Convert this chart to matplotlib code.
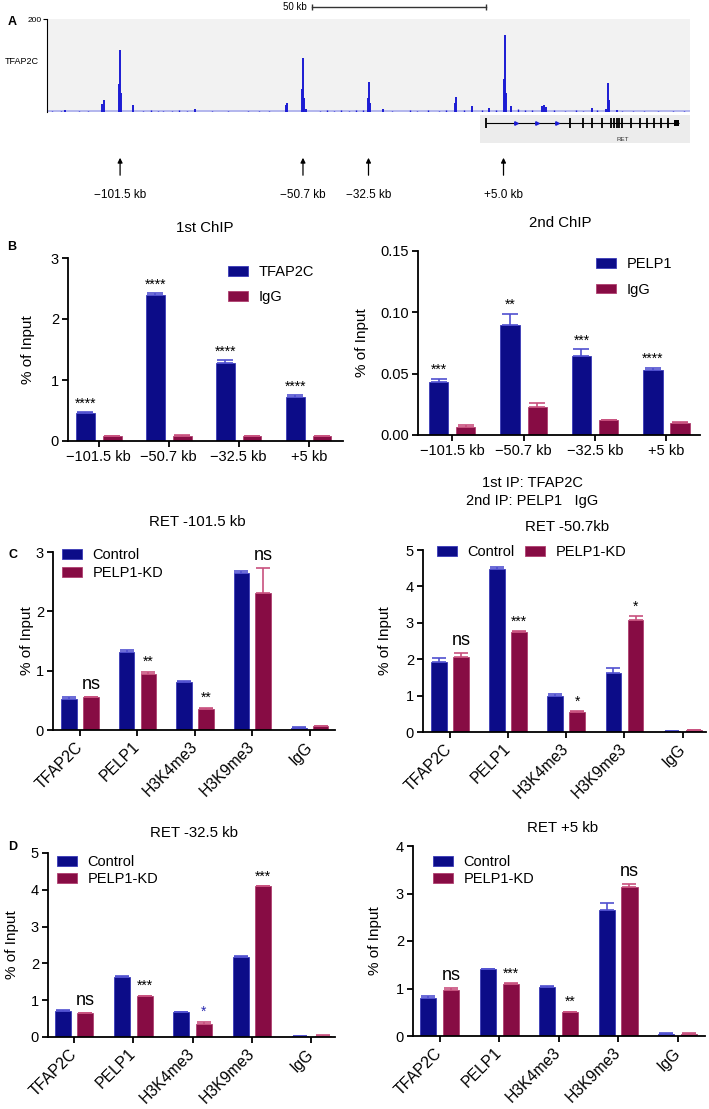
import numpy as np
import matplotlib.pyplot as plt
from matplotlib.ticker import MultipleLocator, FormatStrFormatter

plt.rcParams['font.family'] = ['Liberation Sans', 'DejaVu Sans']

W, H = 709, 1109
BLUE = '#0c0c88'
RED = '#870c44'
BLUE_ERR = '#5050d0'
RED_ERR = '#c8507e'
TRACK = '#1c1cd4'

# ---------------- data ----------------
# A: TFAP2C ChIP-seq signal around RET (kb from RET TSS)
track_pos = [-116.8, -106.5, -106.0, -101.7, -101.5, -101.2, -97.9, -80.7, -55.3, -55.1,
             -50.9, -50.7, -50.4, -49.8, -32.5, -32.3, -32.0, -28.5, -8.4, -8.2,
             -3.8, 1.0, 5.0, 5.3, 5.6, 7.0, 15.6, 16.2, 16.8, 29.5, 33.4, 34.0, 34.3, 36.5]
track_h = [5, 18, 25, 60, 134, 40, 14, 7, 14, 20,
           50, 116, 30, 7, 30, 65, 20, 7, 20, 33,
           13, 9, 70, 165, 40, 12, 12, 16, 10, 9, 7, 63, 25, 5]
noise_pos = [-120.5, -118, -113, -110.5, -95, -93, -91, -89.5, -87, -85, -83, -76, -71.5,
             -66, -63, -60, -46, -44, -42, -40, -38, -36, -34, -26, -21, -19, -16, -13,
             -11, -6, -1, 3, 9, 11, 13, 19, 22, 25, 27, 31, 38, 41, 44, 48, 52, 55]
noise_h = [3, 2, 3, 2, 3, 4, 3, 2, 3, 4, 3, 2, 3, 2, 2, 3, 3, 4, 3, 4, 3, 4, 5, 3, 4, 3,
           4, 3, 4, 5, 4, 5, 6, 4, 5, 4, 3, 4, 3, 4, 3, 3, 2, 3, 2, 2]
arrow_pos = [-101.5, -50.7, -32.5, 5.0]
arrow_labels = ['\u2212101.5 kb', '\u221250.7 kb', '\u221232.5 kb', '+5.0 kb']
ret_start, ret_end = 0.0, 53.8
ret_exons = [0.0, 23.5, 27.0, 29.5, 32.4, 34.8, 35.6, 36.4, 37.2, 38.0, 40.4, 42.9,
             44.8, 46.7, 48.7, 50.6]
ret_dir_marks = [8.5, 14.3, 19.9]
scalebar_kb = [-48.2, 0.0]

# B: sequential ChIP
b_sites = ['\u2212101.5 kb', '\u221250.7 kb', '\u221232.5 kb', '+5 kb']
b1_tfap2c = [0.46, 2.40, 1.28, 0.72]
b1_tfap2c_err = [0.01, 0.03, 0.05, 0.03]
b1_igg = [0.08, 0.09, 0.08, 0.08]
b1_igg_err = [0.005, 0.005, 0.005, 0.005]
b1_sig = ['****', '****', '****', '****']
b2_pelp1 = [0.043, 0.090, 0.064, 0.053]
b2_pelp1_err = [0.003, 0.009, 0.006, 0.002]
b2_igg = [0.0065, 0.023, 0.012, 0.010]
b2_igg_err = [0.0015, 0.003, 0.0005, 0.0005]
b2_sig = ['***', '**', '***', '****']

# C, D: ChIP after PELP1 knockdown
marks = ['TFAP2C', 'PELP1', 'H3K4me3', 'H3K9me3', 'IgG']
c1_ctrl = [0.52, 1.32, 0.81, 2.65, 0.04]
c1_ctrl_err = [0.04, 0.03, 0.01, 0.03, 0.005]
c1_kd = [0.55, 0.94, 0.35, 2.31, 0.06]
c1_kd_err = [0.01, 0.04, 0.02, 0.42, 0.01]
c1_sig = ['ns', '**', '**', 'ns', '']
c2_ctrl = [1.92, 4.47, 0.99, 1.62, 0.03]
c2_ctrl_err = [0.10, 0.06, 0.05, 0.15, 0.005]
c2_kd = [2.06, 2.74, 0.55, 3.08, 0.05]
c2_kd_err = [0.11, 0.03, 0.02, 0.10, 0.01]
c2_sig = ['ns', '***', '*', '*', '']
d1_ctrl = [0.70, 1.63, 0.67, 2.17, 0.03]
d1_ctrl_err = [0.04, 0.03, 0.01, 0.03, 0.005]
d1_kd = [0.65, 1.11, 0.36, 4.09, 0.04]
d1_kd_err = [0.01, 0.01, 0.05, 0.01, 0.005]
d1_sig = ['ns', '***', '*', '***', '']
d2_ctrl = [0.80, 1.41, 1.03, 2.65, 0.05]
d2_ctrl_err = [0.04, 0.01, 0.02, 0.16, 0.005]
d2_kd = [0.97, 1.09, 0.50, 3.13, 0.05]
d2_kd_err = [0.04, 0.02, 0.01, 0.06, 0.005]
d2_sig = ['ns', '***', '**', 'ns', '']

fig = plt.figure(figsize=(W / 100, H / 100), dpi=100)


def px_axes(x0, y0, x1, y1):
    return fig.add_axes([x0 / W, 1 - y1 / H, (x1 - x0) / W, (y1 - y0) / H])


def px_text(x, y, s, **kw):
    kw.setdefault('ha', 'center')
    kw.setdefault('va', 'center')
    fig.text(x / W, 1 - y / H, s, **kw)


def style(ax, ymax, step, xlim, fmt=None):
    for s in ['top', 'right']:
        ax.spines[s].set_visible(False)
    for s in ['left', 'bottom']:
        ax.spines[s].set_linewidth(1.3)
    ax.set_ylim(0, ymax)
    ax.set_xlim(*xlim)
    ax.yaxis.set_major_locator(MultipleLocator(step))
    if fmt:
        ax.yaxis.set_major_formatter(FormatStrFormatter(fmt))
    ax.tick_params(length=4.5, width=1.3, labelsize=10.5, pad=2)


def legend(ax, x, y, ncol=1, spacing=0.35, colsp=0.7):
    ax.legend(loc='upper left', bbox_to_anchor=(x / W, 1 - y / H),
              bbox_transform=fig.transFigure, frameon=False, fontsize=10.5,
              handlelength=1.35, handleheight=0.65, handletextpad=0.75,
              labelspacing=spacing, borderpad=0, borderaxespad=0,
              ncol=ncol, columnspacing=colsp)


def grouped(ax, a, a_err, b, b_err, la, lb, off=0.19, w=0.27, cap=5):
    x = np.arange(len(a))
    ax.bar(x - off, a, w, color=BLUE, edgecolor='#3a3ab8', lw=0.6, label=la,
           yerr=[np.zeros(len(a)), a_err],
           error_kw=dict(ecolor=BLUE_ERR, elinewidth=1.2, capsize=cap, capthick=1.2))
    ax.bar(x + off, b, w, color=RED, edgecolor='#b04070', lw=0.6, label=lb,
           yerr=[np.zeros(len(b)), b_err],
           error_kw=dict(ecolor=RED_ERR, elinewidth=1.2, capsize=cap, capthick=1.2))
    return x


# ---------------- panel A ----------------
kb_lim = (-121.8, 56.8)
axA = px_axes(47, 0, 690, 205)
axA.set_xlim(*kb_lim)
axA.set_ylim(205, 0)
axA.axis('off')

axT = px_axes(47, 19, 690, 112)
axT.set_facecolor('#f2f2f2')
axT.set_xlim(*kb_lim)
axT.set_ylim(0, 200)
for s in ['top', 'right', 'bottom']:
    axT.spines[s].set_visible(False)
axT.spines['left'].set_linewidth(0.8)
axT.set_xticks([])
axT.set_yticks([200])
axT.tick_params(axis='y', length=3, width=0.8, labelsize=6, pad=1)
axT.axhline(1.5, color='#a8acec', lw=1.2)
axT.vlines(noise_pos, 0, noise_h, color=TRACK, lw=1.0)
axT.vlines(track_pos, 0, track_h, color=TRACK, lw=1.4)

# RET gene model
axA.fill_between([ret_start - 1.5, kb_lim[1]], 115, 143, color='#ececec', lw=0)
axA.hlines(123, ret_start, ret_end, color='black', lw=0.8)
axA.vlines(ret_exons, 118, 128, color='black', lw=1.3)
axA.fill_between([52.4, ret_end], 120, 126, color='black', lw=0)
axA.plot(ret_dir_marks, [123] * len(ret_dir_marks), ls='none', marker='>',
         ms=2.5, color=TRACK)
axA.text(38.0, 140, 'RET', fontsize=4.5, ha='center', va='center', color='#333333')

for p, lab in zip(arrow_pos, arrow_labels):
    axA.annotate('', xy=(p, 155), xytext=(p, 178),
                 arrowprops=dict(arrowstyle='-|>', color='black', lw=0.9,
                                 mutation_scale=7))
    axA.text(p, 195, lab, fontsize=8.5, ha='center', va='center')

axA.plot(scalebar_kb, [7, 7], color='#333333', lw=1.0, marker='|', ms=5)
axA.text(scalebar_kb[0] - 1.5, 7, '50 kb', fontsize=7, ha='right', va='center')

px_text(8, 22, 'A', fontsize=9, fontweight='bold', ha='left')
px_text(5, 62, 'TFAP2C', fontsize=6.5, ha='left')

# ---------------- panel B ----------------
axB1 = px_axes(68, 258, 343, 441)
x = grouped(axB1, b1_tfap2c, b1_tfap2c_err, b1_igg, b1_igg_err, 'TFAP2C', 'IgG', cap=6)
style(axB1, 3, 1, (-0.44, 3.49))
axB1.set_xticks(x)
axB1.set_xticklabels(b_sites, fontsize=10.5)
for i, s in enumerate(b1_sig):
    axB1.annotate(s, (x[i] - 0.19, b1_tfap2c[i] + b1_tfap2c_err[i]), xytext=(0, 1),
                  textcoords='offset points', ha='center', va='bottom', fontsize=10)
legend(axB1, 228, 265, spacing=0.75)
px_text(205, 228, '1st ChIP', fontsize=10.8)
px_text(28, 350, '% of Input', fontsize=11, rotation=90)
px_text(12, 247, 'B', fontsize=9, fontweight='bold')

axB2 = px_axes(418, 251, 700, 435)
x = grouped(axB2, b2_pelp1, b2_pelp1_err, b2_igg, b2_igg_err, 'PELP1', 'IgG', cap=6)
style(axB2, 0.15, 0.05, (-0.48, 3.47), fmt='%.2f')
axB2.set_xticks(x)
axB2.set_xticklabels(b_sites, fontsize=10.5)
for i, s in enumerate(b2_sig):
    axB2.annotate(s, (x[i] - 0.19, b2_pelp1[i] + b2_pelp1_err[i]), xytext=(0, 1),
                  textcoords='offset points', ha='center', va='bottom', fontsize=10)
legend(axB2, 596, 257, spacing=0.8)
px_text(560, 223, '2nd ChIP', fontsize=10.8)
px_text(362, 343, '% of Input', fontsize=11, rotation=90)
px_text(532, 483, '1st IP: TFAP2C', fontsize=10.5)
px_text(532, 501, '2nd IP: PELP1   IgG', fontsize=10.5)


# ---------------- panels C, D ----------------
def histone(box, ctrl, ctrl_err, kd, kd_err, sig, ymax, xlim, title, title_xy,
            ylab_xy, leg_xy, ncol=1, sig_colors=None, spacing=0.3):
    ax = px_axes(*box)
    x = grouped(ax, ctrl, ctrl_err, kd, kd_err, 'Control', 'PELP1-KD', cap=5)
    style(ax, ymax, 1, xlim)
    ax.set_xticks(x)
    ax.set_xticklabels(marks, rotation=45, ha='right', va='center',
                       rotation_mode='anchor', fontsize=11.3)
    ax.tick_params(axis='x', pad=6)
    # significance marks sit over the knockdown bar
    for i, s in enumerate(sig):
        if not s:
            continue
        col = sig_colors[i] if sig_colors else 'black'
        big = s == 'ns'
        ax.annotate(s, (x[i] + 0.19, kd[i] + kd_err[i]),
                    xytext=(0, 3 if big else 2), textcoords='offset points',
                    ha='center', va='bottom', color=col,
                    fontsize=13 if big else 10)
    legend(ax, leg_xy[0], leg_xy[1], ncol=ncol, spacing=spacing)
    px_text(title_xy[0], title_xy[1], title, fontsize=10.8)
    px_text(ylab_xy[0], ylab_xy[1], '% of Input', fontsize=11, rotation=90)
    return ax


histone((53, 552, 335, 730), c1_ctrl, c1_ctrl_err, c1_kd, c1_kd_err, c1_sig, 3,
        (-0.47, 4.44), 'RET -101.5 kb', (197, 522), (27, 641), (62, 548))
histone((423, 550, 706, 732), c2_ctrl, c2_ctrl_err, c2_kd, c2_kd_err, c2_sig, 5,
        (-0.46, 4.4), 'RET -50.7kb', (567, 527), (385, 641), (437, 545), ncol=2)
histone((48, 853, 335, 1037), d1_ctrl, d1_ctrl_err, d1_kd, d1_kd_err, d1_sig, 5,
        (-0.44, 4.4), 'RET -32.5 kb', (194, 833), (12, 945), (57, 855),
        sig_colors=['black', 'black', '#2a2ab0', 'black', 'black'], spacing=0.2)
histone((413, 846, 705, 1036), d2_ctrl, d2_ctrl_err, d2_kd, d2_kd_err, d2_sig, 4,
        (-0.45, 4.46), 'RET +5 kb', (563, 828), (375, 941), (433, 855), spacing=0.2)
px_text(13, 555, 'C', fontsize=9, fontweight='bold')
px_text(13, 847, 'D', fontsize=9, fontweight='bold')

fig.savefig('out.png', dpi=100)
